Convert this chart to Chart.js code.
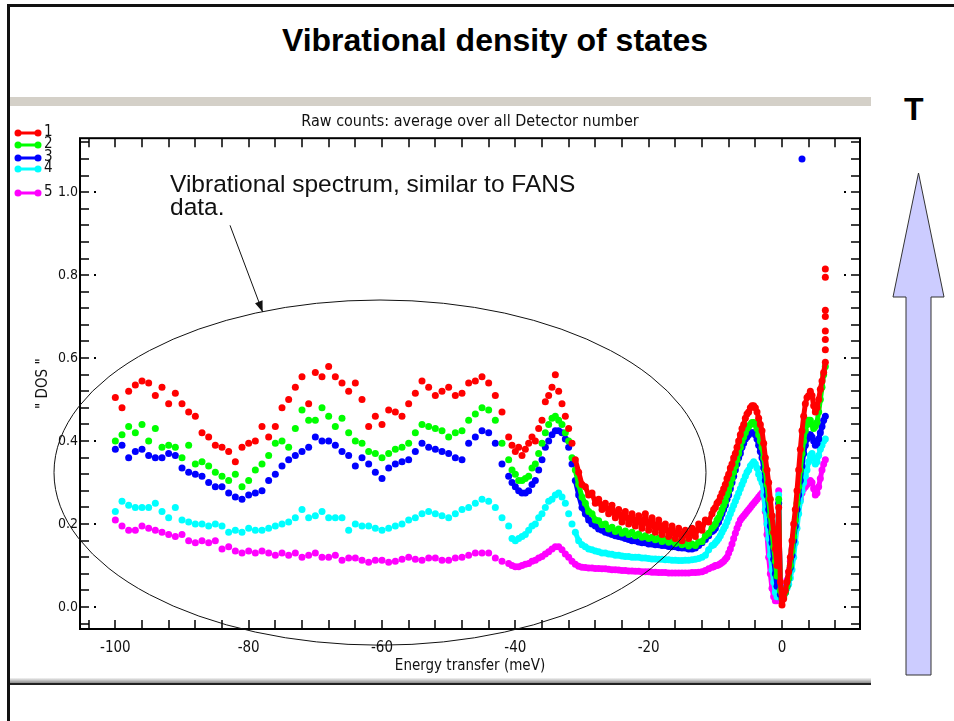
<!DOCTYPE html>
<html>
<head>
<meta charset="utf-8">
<title>Vibrational density of states</title>
<script src="https://cdn.jsdelivr.net/npm/chart.js@4.4.0/dist/chart.umd.min.js"></script>
<style>
  body { margin: 0; background: #fff; width: 954px; height: 721px; overflow: hidden; position: relative; }
  #slide { position: absolute; left: 0; top: 0; }
  #plotBox { position: absolute; left: 10px; top: 106px; width: 861px; height: 572px; }
</style>
</head>
<body>
<svg id="slide" width="954" height="721">
  <defs>
    <linearGradient id="foot" x1="0" y1="0" x2="0" y2="1">
      <stop offset="0" stop-color="#f4f4f4"/>
      <stop offset="1" stop-color="#8c8c8c"/>
    </linearGradient>
  </defs>
  <rect x="7" y="4" width="947" height="3" fill="#111"/>
  <rect x="7" y="4" width="3" height="717" fill="#111"/>
  <rect x="10" y="97" width="861" height="9" fill="#d4d0c8"/>
  <rect x="10" y="678" width="861" height="5" fill="url(#foot)"/>
  <rect x="10" y="683" width="861" height="2" fill="#222"/>
  <text x="495" y="51" text-anchor="middle" font-family="'Liberation Sans', Arial, sans-serif" font-weight="bold" font-size="32">Vibrational density of states</text>
  <text x="904" y="120" font-family="'Liberation Sans', Arial, sans-serif" font-weight="bold" font-size="32">T</text>
  <polygon points="918.5,173 944,297 931,297 931,675 906,675 906,297 893,297" fill="#ccccff" stroke="#333" stroke-width="1"/>
</svg>
<div id="plotBox"><canvas id="myChart"></canvas></div>
<script>
// energy transfer (meV): 1 meV bins far out, finer bins near the elastic line
const energy = [
  -100,-99,-98,-97,-96,-95,-94,-93,-92,-91,-90,-89,-88,-87,-86,-85,-84,-83,-82,-81,
  -80,-79,-78,-77,-76,-75,-74,-73,-72,-71,-70,-69,-68,-67,-66,-65,-64,-63,-62,-61,
  -60,-59,-58,-57,-56,-55,-54,-53,-52,-51,-50,-49,-48,-47,-46,-45,-44,-43,-42,-41,
  -40.5,-40,-39.5,-39,-38.5,-38,-37.5,-37,-36.5,-36,-35.5,-35,-34.5,-34,-33.5,-33,-32.5,-32,-31.5,-31,
  -30.5,-30,-29.5,-29,-28.5,-28,-27.5,-27,-26.5,-26,-25.5,-25,-24.5,-24,-23.5,-23,-22.5,-22,-21.5,-21,
  -20.5,-20,-19.5,-19,-18.5,-18,-17.5,-17,-16.5,-16,-15.5,-15,-14.5,-14,-13.5,-13,-12.5,-12,-11.5,-11,
  -10.5,
  -10.25,-10,-9.75,-9.5,-9.25,-9,-8.75,-8.5,-8.25,-8,-7.75,-7.5,-7.25,-7,-6.75,-6.5,-6.25,-6,-5.75,-5.5,
  -5.25,-5,-4.75,-4.5,-4.25,-4,-3.75,-3.5,-3.25,-3,-2.75,-2.5,-2.25,-2,-1.75,-1.5,-1.25,-1,-0.75,-0.5,
  -0.25,0,0.25,0.5,0.75,1,1.25,1.5,1.75,2,2.25,2.5,2.75,3,3.25,3.5,3.75,4,4.25,4.5,
  4.75,5,5.25,5.5,5.75,6,6.25,6.5
];

// " DOS " for the five runs
const dos1 = [
  0.505,0.48,0.52,0.535,0.545,0.54,0.51,0.53,0.49,0.515, 0.49,0.47,0.46,0.42,0.41,0.39,0.385,0.375,0.35,0.385,
  0.395,0.40,0.435,0.41,0.435,0.48,0.50,0.53,0.555,0.49, 0.565,0.555,0.58,0.555,0.54,0.52,0.54,0.50,0.435,0.46,
  0.44,0.475,0.47,0.46,0.49,0.515,0.545,0.53,0.51,0.52, 0.53,0.51,0.515,0.54,0.545,0.555,0.54,0.51,0.47,0.41,
  0.39,0.375,0.385,0.365,0.38,0.395,0.41,0.40,0.43,0.45, 0.495,0.51,0.53,0.56,0.52,0.49,0.46,0.43,0.395,0.355,
  0.325,0.295,0.29,0.27,0.275,0.25,0.26,0.235,0.25,0.225, 0.245,0.215,0.235,0.205,0.23,0.20,0.225,0.195,0.22,0.19,
  0.225,0.185,0.215,0.18,0.21,0.175,0.20,0.17,0.195,0.165, 0.19,0.16,0.185,0.165,0.19,0.17,0.20,0.185,0.21,0.205,
  0.225,
  0.235,0.24,0.25,0.255,0.265,0.275,0.285,0.295,0.31,0.32, 0.335,0.345,0.36,0.37,0.385,0.40,0.415,0.43,0.44,0.455,
  0.465,0.47,0.48,0.485,0.485,0.48,0.47,0.455,0.44,0.425, 0.395,0.36,0.33,0.30,0.26,0.22,0.18,0.14,0.10,0.24,
  0.06,0.005,0.02,0.04,0.06,0.085,0.12,0.16,0.20,0.235, 0.28,0.33,0.38,0.425,0.46,0.49,0.505,0.51,0.52,0.51,
  0.485,0.47,0.48,0.50,0.525,0.545,0.565,0.59
];
const dos2 = [
  0.40,0.415,0.435,0.42,0.44,0.40,0.43,0.385,0.39,0.385, 0.36,0.39,0.345,0.35,0.34,0.325,0.315,0.305,0.32,0.29,
  0.305,0.33,0.345,0.365,0.395,0.40,0.385,0.43,0.475,0.45, 0.45,0.48,0.46,0.435,0.455,0.42,0.40,0.395,0.375,0.37,
  0.36,0.37,0.38,0.385,0.395,0.42,0.44,0.435,0.43,0.425, 0.41,0.42,0.425,0.45,0.465,0.48,0.475,0.45,0.395,0.355,
  0.33,0.32,0.305,0.305,0.31,0.315,0.335,0.345,0.37,0.395, 0.42,0.44,0.455,0.46,0.45,0.44,0.42,0.40,0.36,0.33,
  0.295,0.265,0.25,0.23,0.225,0.21,0.208,0.198,0.20,0.188, 0.192,0.182,0.188,0.178,0.183,0.175,0.18,0.172,0.176,0.168,
  0.172,0.165,0.168,0.162,0.166,0.158,0.163,0.156,0.16,0.153, 0.157,0.15,0.154,0.147,0.152,0.148,0.157,0.158,0.172,0.178,
  0.19,
  0.195,0.20,0.21,0.215,0.225,0.235,0.245,0.255,0.27,0.28, 0.295,0.31,0.325,0.34,0.355,0.37,0.385,0.40,0.41,0.42,
  0.43,0.435,0.44,0.445,0.445,0.44,0.43,0.415,0.40,0.385, 0.36,0.33,0.295,0.26,0.22,0.18,0.145,0.11,0.075,0.26,
  0.04,0.02,0.025,0.035,0.05,0.07,0.10,0.135,0.17,0.21, 0.25,0.29,0.33,0.37,0.40,0.425,0.44,0.45,0.45,0.44,
  0.43,0.435,0.445,0.47,0.50,0.53,0.56,0.58
];
const dos3 = [
  0.38,0.39,0.36,0.375,0.38,0.365,0.36,0.36,0.37,0.365, 0.335,0.325,0.32,0.315,0.30,0.29,0.29,0.275,0.265,0.26,
  0.27,0.275,0.28,0.305,0.32,0.34,0.355,0.365,0.375,0.385, 0.41,0.40,0.40,0.39,0.375,0.365,0.34,0.36,0.345,0.325,
  0.31,0.335,0.345,0.35,0.355,0.375,0.395,0.385,0.38,0.375, 0.37,0.36,0.355,0.395,0.41,0.425,0.42,0.395,0.345,0.315,
  0.30,0.29,0.28,0.275,0.275,0.28,0.295,0.305,0.33,0.355, 0.385,0.40,0.415,0.425,0.425,0.42,0.405,0.385,0.345,0.305,
  0.27,0.24,0.225,0.21,0.20,0.195,0.188,0.185,0.18,0.178, 0.175,0.172,0.17,0.168,0.165,0.163,0.16,0.16,0.157,0.155,
  0.155,0.152,0.152,0.15,0.15,0.148,0.148,0.146,0.145,0.145, 0.143,0.142,0.142,0.14,0.14,0.142,0.148,0.155,0.163,0.172,
  0.182,
  0.185,0.19,0.20,0.205,0.215,0.225,0.235,0.245,0.26,0.27, 0.285,0.30,0.315,0.33,0.345,0.36,0.37,0.385,0.395,0.405,
  0.41,0.415,0.42,0.42,0.42,0.415,0.405,0.39,0.375,0.36, 0.335,0.305,0.27,0.235,0.195,0.155,0.115,0.08,0.05,0.25,
  0.03,0.02,0.025,0.035,0.05,0.07,0.095,0.125,0.16,0.195, 0.235,0.27,0.305,0.34,0.37,0.39,0.405,0.415,0.415,0.41,
  0.40,0.39,0.395,0.405,0.42,0.435,0.45,0.46
];
const dos4 = [
  0.23,0.255,0.245,0.24,0.24,0.24,0.25,0.23,0.215,0.24, 0.21,0.205,0.20,0.20,0.195,0.20,0.195,0.18,0.185,0.18,
  0.19,0.185,0.185,0.19,0.195,0.20,0.205,0.215,0.235,0.215, 0.22,0.23,0.215,0.215,0.215,0.185,0.20,0.195,0.195,0.19,
  0.185,0.19,0.195,0.20,0.21,0.215,0.225,0.23,0.225,0.22, 0.215,0.225,0.235,0.24,0.25,0.26,0.255,0.24,0.215,0.195,
  0.165,0.16,0.165,0.17,0.175,0.185,0.195,0.20,0.215,0.225, 0.24,0.255,0.26,0.27,0.275,0.265,0.25,0.225,0.20,0.18,
  0.16,0.15,0.145,0.14,0.138,0.135,0.133,0.13,0.13,0.128, 0.127,0.125,0.125,0.123,0.122,0.122,0.12,0.12,0.12,0.118,
  0.118,0.117,0.116,0.116,0.115,0.115,0.114,0.114,0.113,0.113, 0.112,0.112,0.113,0.113,0.114,0.115,0.117,0.12,0.125,0.138,
  0.148,
  0.15,0.155,0.16,0.165,0.172,0.18,0.188,0.195,0.205,0.215, 0.225,0.235,0.245,0.255,0.265,0.275,0.285,0.295,0.305,0.315,
  0.325,0.33,0.34,0.345,0.35,0.345,0.335,0.32,0.31,0.30, 0.27,0.235,0.20,0.165,0.125,0.09,0.06,0.035,0.025,0.27,
  0.025,0.025,0.03,0.035,0.045,0.055,0.07,0.09,0.12,0.155, 0.19,0.225,0.255,0.28,0.30,0.315,0.33,0.35,0.365,0.37,
  0.36,0.345,0.35,0.365,0.38,0.39,0.40,0.405
];
const dos5 = [
  0.21,0.195,0.185,0.185,0.195,0.19,0.185,0.18,0.175,0.17, 0.175,0.16,0.155,0.16,0.155,0.16,0.14,0.145,0.135,0.13,
  0.135,0.13,0.135,0.13,0.125,0.13,0.125,0.13,0.12,0.125, 0.13,0.12,0.12,0.125,0.113,0.118,0.118,0.113,0.108,0.113,
  0.113,0.108,0.11,0.115,0.12,0.115,0.113,0.118,0.118,0.113, 0.113,0.118,0.12,0.125,0.13,0.13,0.13,0.118,0.11,0.105,
  0.10,0.097,0.097,0.10,0.103,0.105,0.11,0.113,0.118,0.122, 0.128,0.133,0.14,0.145,0.145,0.138,0.128,0.12,0.11,0.103,
  0.098,0.096,0.095,0.094,0.094,0.093,0.093,0.092,0.092,0.091, 0.09,0.09,0.089,0.088,0.088,0.087,0.087,0.086,0.086,0.085,
  0.085,0.085,0.084,0.084,0.083,0.083,0.083,0.082,0.082,0.082, 0.082,0.082,0.082,0.082,0.083,0.083,0.084,0.085,0.088,0.092,
  0.096,
  0.097,0.10,0.10,0.102,0.104,0.107,0.11,0.115,0.12,0.13, 0.14,0.152,0.165,0.178,0.19,0.20,0.21,0.215,0.22,0.225,
  0.23,0.235,0.24,0.245,0.25,0.255,0.26,0.265,0.27,0.275, 0.27,0.23,0.175,0.12,0.08,0.045,0.025,0.015,0.015,0.28,
  0.02,0.03,0.04,0.05,0.065,0.085,0.11,0.14,0.17,0.20, 0.225,0.245,0.26,0.275,0.285,0.29,0.295,0.30,0.305,0.30,
  0.285,0.27,0.275,0.29,0.31,0.33,0.345,0.355
];

// last bins of run 1 pile up at the edge, plus one stray point of run 3
const tailEnergy1 = [6.5, 6.5, 6.5, 6.5, 6.5, 6.5, 6.5];
const tailDos1 = [0.62, 0.645, 0.665, 0.70, 0.715, 0.795, 0.815];
const strayEnergy3 = [3.0];
const strayDos3 = [1.08];

const runLabels = ['1', '2', '3', '4', '5'];
const runColors = ['#ff0000', '#00ff00', '#0000ff', '#00ffff', '#ff00ff'];

const xMin = -105.3, xMax = 11.7, xMajor = 20, xMinor = 4;
const yMin = -0.053, yMax = 1.13, yMajor = 0.2, yMinor = 0.04;
const denseFrom = -31; // from here on the bins are so close the dots merge into a band

const chartTitle = 'Raw counts: average over all Detector number';
const noteLines = ['Vibrational spectrum, similar to FANS', 'data.'];

const narrow = "'Liberation Sans Narrow', 'DejaVu Sans Condensed', 'Arial Narrow', sans-serif";

function pts(xs, ys) {
  return xs.map((e, i) => ({ x: e, y: ys[i] }));
}

const series = [
  pts(energy, dos1).concat(pts(tailEnergy1, tailDos1)),
  pts(energy, dos2),
  pts(energy, dos3).concat(pts(strayEnergy3, strayDos3)),
  pts(energy, dos4),
  pts(energy, dos5)
];

// inward ticks on all four sides, box, little dots by the y labels
const frameTicks = {
  id: 'frameTicks',
  afterDraw(chart) {
    const { ctx, chartArea: a, scales: { x, y } } = chart;
    const len = 9;
    ctx.save();
    ctx.strokeStyle = '#000';
    ctx.lineWidth = 2;
    ctx.strokeRect(a.left, a.top, a.right - a.left, a.bottom - a.top);
    ctx.lineWidth = 1.5;
    ctx.beginPath();
    for (let k = Math.ceil(xMin / xMinor); k * xMinor <= xMax; k++) {
      const px = Math.round(x.getPixelForValue(k * xMinor));
      ctx.moveTo(px, a.bottom); ctx.lineTo(px, a.bottom - len);
      ctx.moveTo(px, a.top); ctx.lineTo(px, a.top + len);
    }
    for (let k = Math.ceil(yMin / yMinor); k * yMinor <= yMax; k++) {
      const py = Math.round(y.getPixelForValue(k * yMinor));
      ctx.moveTo(a.left, py); ctx.lineTo(a.left + len, py);
      ctx.moveTo(a.right, py); ctx.lineTo(a.right - len, py);
    }
    ctx.stroke();
    ctx.fillStyle = '#000';
    for (let k = 0; k * yMajor <= 1.0001; k++) {
      const py = Math.round(y.getPixelForValue(k * yMajor));
      ctx.fillRect(a.left + 14, py - 1, 2, 2);
      ctx.fillRect(a.right - 16, py - 1, 2, 2);
    }
    ctx.restore();
  }
};

// legend in the top-left corner, the way the old plot had it
const legendRows = [27, 39, 52, 63, 87];
const cornerLegend = {
  id: 'cornerLegend',
  afterDraw(chart) {
    const ctx = chart.ctx;
    ctx.save();
    chart.data.datasets.forEach((ds, i) => {
      const yy = legendRows[i];
      ctx.strokeStyle = ds.borderColor;
      ctx.fillStyle = ds.borderColor;
      ctx.lineWidth = 3;
      ctx.beginPath();
      ctx.moveTo(8, yy); ctx.lineTo(28, yy);
      ctx.stroke();
      [8, 28].forEach(px => {
        ctx.beginPath();
        ctx.arc(px, yy, 3.5, 0, Math.PI * 2);
        ctx.fill();
      });
      ctx.fillStyle = '#111';
      ctx.font = '15px ' + narrow;
      ctx.textBaseline = 'middle';
      ctx.fillText(ds.label, 34, yy - 1);
    });
    ctx.restore();
  }
};

// the hand-drawn note: text, arrow and ellipse round the vibrational part
const note = {
  id: 'note',
  afterDraw(chart) {
    const { ctx, scales: { x, y } } = chart;
    ctx.save();
    ctx.strokeStyle = '#111';
    ctx.fillStyle = '#111';
    ctx.lineWidth = 1;
    const cx = x.getPixelForValue(-60.3), cy = y.getPixelForValue(0.324);
    const rx = x.getPixelForValue(-60.3 + 48.9) - cx;
    const ry = cy - y.getPixelForValue(0.324 + 0.416);
    ctx.beginPath();
    ctx.ellipse(cx, cy, rx, ry, 0, 0, Math.PI * 2);
    ctx.stroke();

    const x0 = x.getPixelForValue(-82.8), y0 = y.getPixelForValue(0.92);
    const x1 = x.getPixelForValue(-77.9), y1 = y.getPixelForValue(0.711);
    ctx.beginPath();
    ctx.moveTo(x0, y0); ctx.lineTo(x1, y1);
    ctx.stroke();
    const ang = Math.atan2(y1 - y0, x1 - x0);
    ctx.beginPath();
    ctx.moveTo(x1, y1);
    ctx.lineTo(x1 - 11 * Math.cos(ang) + 4 * Math.sin(ang), y1 - 11 * Math.sin(ang) - 4 * Math.cos(ang));
    ctx.lineTo(x1 - 11 * Math.cos(ang) - 4 * Math.sin(ang), y1 - 11 * Math.sin(ang) + 4 * Math.cos(ang));
    ctx.closePath();
    ctx.fill();

    ctx.font = "24.5px 'Liberation Sans', Arial, sans-serif";
    ctx.textBaseline = 'alphabetic';
    const tx = x.getPixelForValue(-91.8);
    ctx.fillText(noteLines[0], tx, y.getPixelForValue(1.0));
    ctx.fillText(noteLines[1], tx, y.getPixelForValue(0.945));
    ctx.restore();
  }
};

const ctx = document.getElementById('myChart').getContext('2d');
const myChart = new Chart(ctx, {
  type: 'scatter',
  data: {
    datasets: series.map((d, i) => ({
      label: runLabels[i],
      data: d,
      borderColor: runColors[i],
      backgroundColor: runColors[i],
      pointRadius: 3.5,
      pointHoverRadius: 3.5,
      pointBorderWidth: 0,
      showLine: true,
      borderWidth: 5,
      borderJoinStyle: 'round',
      borderCapStyle: 'round',
      tension: 0,
      // join the close-packed bins into a band, leave the sparse ones as dots
      segment: {
        borderColor: c => (c.p0.parsed.x >= denseFrom && c.p1.parsed.x > c.p0.parsed.x) ? runColors[i] : 'rgba(0,0,0,0)'
      }
    }))
  },
  options: {
    responsive: true,
    maintainAspectRatio: false,
    animation: false,
    devicePixelRatio: 1,
    layout: { padding: { left: 0, right: 11, top: 0, bottom: 0 } },
    plugins: {
      legend: { display: false },
      tooltip: { enabled: false },
      title: {
        display: true,
        fullSize: false,
        text: chartTitle,
        color: '#111',
        font: { family: narrow, size: 16, weight: 'normal' },
        padding: { top: 6, bottom: 7 }
      }
    },
    scales: {
      x: {
        type: 'linear',
        min: xMin,
        max: xMax,
        grid: { display: false, drawTicks: false },
        border: { display: false },
        ticks: {
          stepSize: xMajor,
          includeBounds: false,
          autoSkip: false,
          maxRotation: 0,
          padding: 10,
          color: '#111',
          font: { family: narrow, size: 15 },
          callback: v => String(Math.round(v))
        },
        title: {
          display: true,
          text: 'Energy transfer (meV)',
          color: '#111',
          font: { family: narrow, size: 15 },
          padding: { top: 0, bottom: 3 }
        },
        afterFit: s => { s.height = 49; }
      },
      y: {
        type: 'linear',
        min: yMin,
        max: yMax,
        grid: { display: false, drawTicks: false },
        border: { display: false },
        ticks: {
          stepSize: yMajor,
          includeBounds: false,
          padding: 2,
          color: '#111',
          font: { family: narrow, size: 14 },
          callback: v => v.toFixed(1)
        },
        title: {
          display: true,
          text: '" DOS "',
          color: '#111',
          font: { family: narrow, size: 15 },
          padding: { top: 24, bottom: 0 }
        },
        afterFit: s => { s.width = 70; }
      }
    }
  },
  plugins: [frameTicks, cornerLegend, note]
});
</script>
</body>
</html>
